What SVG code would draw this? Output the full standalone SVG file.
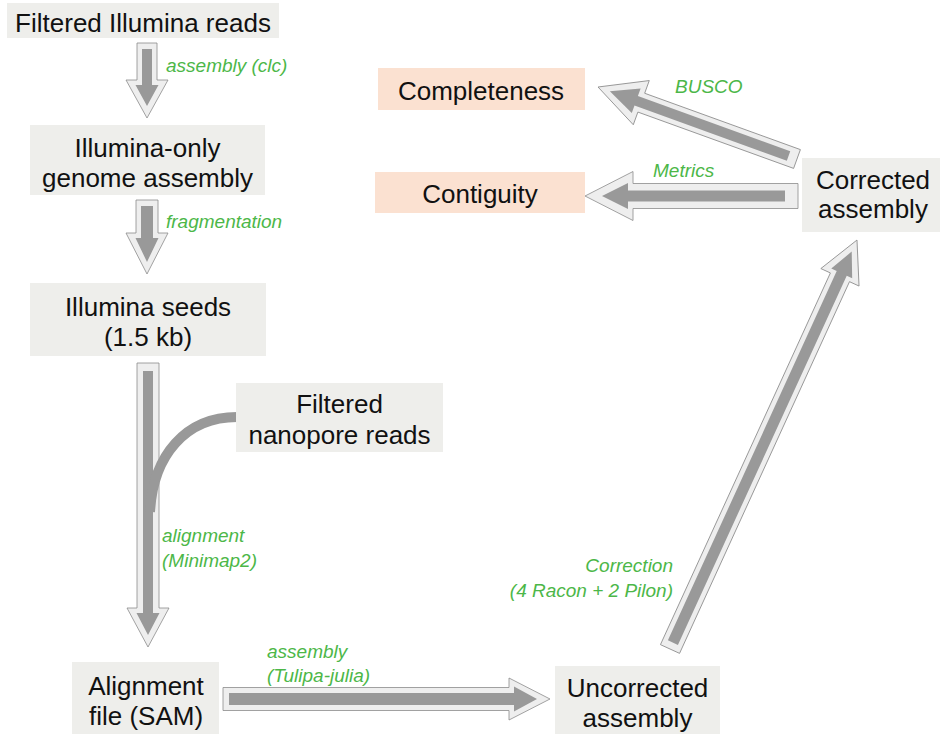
<svg xmlns="http://www.w3.org/2000/svg" width="942" height="734" viewBox="0 0 942 734">
<style>
.box{fill:#eeeeeb}
.peach{fill:#fbe1d1}
.t{font-family:"Liberation Sans",Arial,sans-serif;font-size:26px;fill:#111;text-anchor:middle}
.lbl{font-family:"Liberation Sans",Arial,sans-serif;font-size:19px;font-style:italic;fill:#4cb748}
.out{fill:#eeeeee;stroke:#8c8c8c;stroke-width:0.8}
.in{fill:#999999}
</style>
<rect width="942" height="734" fill="#ffffff"/>
<g id="connectors">
<g id="a1" transform="translate(147,43) rotate(90)">
<polygon class="out" points="0,-10 37,-10 37,-21 75,0 37,21 37,10 0,10"/>
<polygon class="in" points="6,-5 42,-5 42,-11.5 63,0 42,11.5 42,5 6,5"/>
</g>
<g id="a2" transform="translate(147,200) rotate(90)">
<polygon class="out" points="0,-11 33,-11 33,-21 74,0 33,21 33,11 0,11"/>
<polygon class="in" points="6,-6 38,-6 38,-11.5 62,0 38,11.5 38,6 6,6"/>
</g>
<g id="a3" transform="translate(148,363) rotate(90)">
<polygon class="out" points="0,-11 245,-11 245,-21 284,0 245,21 245,11 0,11"/>
<polygon class="in" points="8,-5 250,-5 250,-11.5 272,0 250,11.5 250,5 8,5"/>
</g>
<path id="merge" d="M237,417 C186,417 153,455 150,512" fill="none" stroke="#999999" stroke-width="10"/>
<g id="a4" transform="translate(223,699)">
<polygon class="out" points="0,-11.5 286,-11.5 286,-21 327,0 286,21 286,11.5 0,11.5"/>
<polygon class="in" points="6,-6 291,-6 291,-12.5 314,0 291,12.5 291,6 6,6"/>
</g>
<g id="a5" transform="translate(797,159) rotate(-160.11)">
<polygon class="out" points="0,-10 165.6,-10 165.6,-23.5 211.6,0 165.6,23.5 165.6,10 0,10"/>
<polygon class="in" points="9,-5 171,-5 171,-13 199,0 171,13 171,5 9,5"/>
</g>
<g id="a6" transform="translate(798,196) rotate(180)">
<polygon class="out" points="0,-12.5 165,-12.5 165,-24.5 213,0 165,24.5 165,12.5 0,12.5"/>
<polygon class="in" points="13,-5.5 170,-5.5 170,-13 196,0 170,13 170,5.5 13,5.5"/>
</g>
<g id="a7" transform="translate(670,649) rotate(-65.43)">
<polygon class="out" points="0,-10.5 408.7,-10.5 408.7,-21 449.7,0 408.7,21 408.7,10.5 0,10.5"/>
<polygon class="in" points="7,-5.5 413,-5.5 413,-11.5 437,0 413,11.5 413,5.5 7,5.5"/>
</g>
<text class="lbl" x="166" y="72">assembly (clc)</text>
<text class="lbl" x="166" y="228">fragmentation</text>
<text class="lbl" x="162" y="542">alignment</text>
<text class="lbl" x="162" y="567">(Minimap2)</text>
<text class="lbl" x="267" y="658">assembly</text>
<text class="lbl" x="267" y="682">(Tulipa-julia)</text>
<text class="lbl" x="673" y="572" text-anchor="end">Correction</text>
<text class="lbl" x="673" y="597" text-anchor="end">(4 Racon + 2 Pilon)</text>
<text class="lbl" x="675" y="93">BUSCO</text>
<text class="lbl" x="653" y="177">Metrics</text>
</g>
<g id="n1"><rect class="box" x="7" y="3" width="272" height="35"/><text class="t" x="143" y="32">Filtered Illumina reads</text></g>
<g id="n2"><rect class="box" x="30" y="125" width="235" height="70"/><text class="t" x="147.5" y="157">Illumina-only</text><text class="t" x="147.5" y="187">genome assembly</text></g>
<g id="n3"><rect class="box" x="30" y="283" width="236" height="73"/><text class="t" x="148" y="316">Illumina seeds</text><text class="t" x="148" y="346">(1.5 kb)</text></g>
<g id="n4"><rect class="box" x="236" y="383" width="207" height="69"/><text class="t" x="339.5" y="413">Filtered</text><text class="t" x="339.5" y="444">nanopore reads</text></g>
<g id="n5"><rect class="box" x="72" y="662" width="147" height="72"/><text class="t" x="146" y="695">Alignment</text><text class="t" x="146" y="725">file (SAM)</text></g>
<g id="n6"><rect class="box" x="555" y="666" width="165" height="68"/><text class="t" x="637.5" y="697">Uncorrected</text><text class="t" x="637.5" y="727">assembly</text></g>
<g id="n7"><rect class="box" x="802" y="158" width="138" height="74"/><text class="t" x="873" y="189">Corrected</text><text class="t" x="873" y="218">assembly</text></g>
<g id="n8"><rect class="peach" x="378" y="68" width="207" height="42"/><text class="t" x="481" y="100">Completeness</text></g>
<g id="n9"><rect class="peach" x="375" y="172" width="210" height="41"/><text class="t" x="480" y="203">Contiguity</text></g>
</svg>
